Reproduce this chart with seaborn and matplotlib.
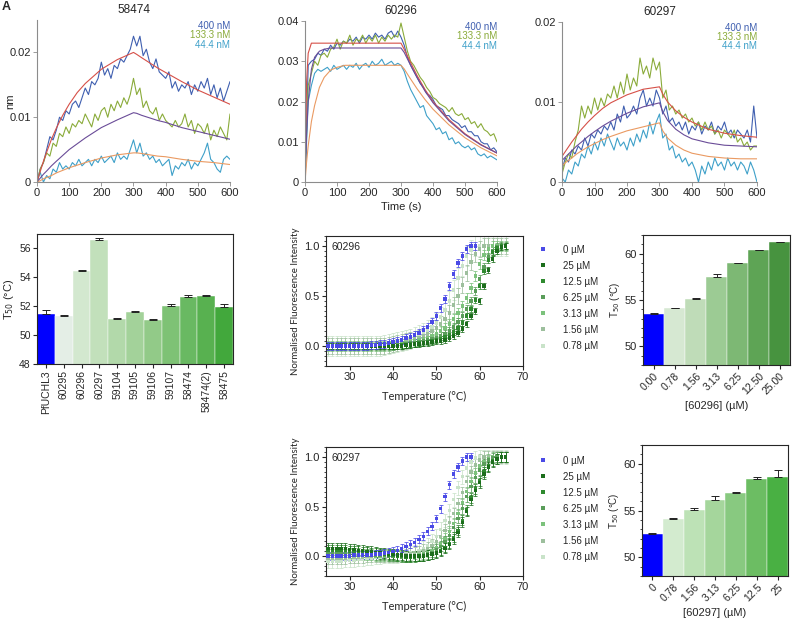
import numpy as np
import pandas as pd
import seaborn as sns
import matplotlib.pyplot as plt
from matplotlib.ticker import MultipleLocator

nan = np.nan

# ---------------- BLI sensorgrams (one reading every 10 s, 0..600 s)
t_trace = np.arange(0, 601, 10)
t_fit = [0, 5, 10, 20, 30, 45, 60, 80, 100, 125, 150, 200, 250, 300, 310, 325, 350, 375, 400, 450, 500, 550, 600]
conc_nm = ["400 nM", "133.3 nM", "44.4 nM"]

s58474_400 = [0.000, 0.002, 0.003, 0.005, 0.007, 0.0065, 0.008, 0.010, 0.0095, 0.011,
              0.0105, 0.012, 0.0125, 0.0115, 0.013, 0.0145, 0.0135, 0.0155, 0.015, 0.016,
              0.0185, 0.0165, 0.0175, 0.016, 0.018, 0.0175, 0.019, 0.0185, 0.0195, 0.0205,
              0.0225, 0.021, 0.0225, 0.0195, 0.0205, 0.0185, 0.0175, 0.019, 0.017, 0.0165,
              0.016, 0.017, 0.0145, 0.0155, 0.014, 0.015, 0.0145, 0.0155, 0.0135, 0.015,
              0.014, 0.0155, 0.0145, 0.016, 0.0135, 0.015, 0.013, 0.0145, 0.0125, 0.014,
              0.0155]
s58474_133 = [0.000, 0.002, 0.003, 0.0045, 0.004, 0.006, 0.0055, 0.0075, 0.007, 0.0085,
              0.0075, 0.009, 0.0085, 0.0095, 0.009, 0.0105, 0.0095, 0.0085, 0.0105, 0.0095,
              0.011, 0.0115, 0.010, 0.012, 0.011, 0.0125, 0.0115, 0.013, 0.012, 0.0135,
              0.016, 0.0135, 0.0145, 0.0115, 0.0125, 0.011, 0.0105, 0.0115, 0.0095, 0.0105,
              0.0095, 0.009, 0.0085, 0.0095, 0.0085, 0.009, 0.0105, 0.0085, 0.0095, 0.0075,
              0.009, 0.0085, 0.0075, 0.009, 0.0065, 0.008, 0.007, 0.0085, 0.0075, 0.0065,
              0.0105]
s58474_44 = [0.000, 0.0015, 0.000, 0.001, 0.0005, 0.002, 0.0015, 0.003, 0.002, 0.0025,
             0.002, 0.003, 0.0025, 0.0035, 0.0025, 0.003, 0.0035, 0.0025, 0.0035, 0.003,
             0.004, 0.003, 0.0035, 0.004, 0.003, 0.0045, 0.0035, 0.004, 0.0035, 0.005,
             0.0065, 0.0045, 0.006, 0.004, 0.0045, 0.0035, 0.004, 0.003, 0.0035, 0.0025,
             0.003, 0.0035, 0.001, 0.0025, 0.002, 0.003, 0.0025, 0.0035, 0.002, 0.003,
             0.0025, 0.0035, 0.0045, 0.006, 0.0035, 0.003, 0.002, 0.0015, 0.0035, 0.004,
             0.0035]
f58474_a = [0, 0.0008, 0.0016, 0.0032, 0.0046, 0.0066, 0.0083, 0.0103, 0.0120, 0.0138,
            0.0152, 0.0174, 0.0189, 0.0200, 0.0197, 0.0192, 0.0184, 0.0176, 0.0169, 0.0155,
            0.0142, 0.0131, 0.0120]
f58474_b = [0, 0.0003, 0.0006, 0.0012, 0.0017, 0.0025, 0.0032, 0.0041, 0.0050, 0.0059,
            0.0068, 0.0084, 0.0096, 0.0107, 0.0106, 0.0103, 0.0099, 0.0095, 0.0092, 0.0084,
            0.0078, 0.0072, 0.0066]
f58474_c = [0, 0.0001, 0.0002, 0.0005, 0.0007, 0.0010, 0.0014, 0.0018, 0.0022, 0.0026,
            0.0030, 0.0037, 0.0042, 0.0045, 0.0045, 0.0044, 0.0042, 0.0040, 0.0039, 0.0035,
            0.0032, 0.0030, 0.0027]

s60296_400 = [0.000, 0.029, 0.030, 0.0305, 0.032, 0.0315, 0.033, 0.0325, 0.034, 0.033,
              0.0345, 0.034, 0.035, 0.0345, 0.0355, 0.035, 0.036, 0.0345, 0.036, 0.0355,
              0.0365, 0.0355, 0.037, 0.036, 0.0365, 0.0355, 0.037, 0.0375, 0.036, 0.0375,
              0.036, 0.034, 0.031, 0.029, 0.0275, 0.026, 0.0245, 0.0235, 0.022, 0.0215,
              0.0205, 0.019, 0.0185, 0.018, 0.0165, 0.0165, 0.0155, 0.015, 0.0145, 0.0135,
              0.014, 0.0125, 0.0125, 0.0115, 0.0115, 0.010, 0.0095, 0.0095, 0.008, 0.0085,
              0.0075]
s60296_133 = [0.000, 0.024, 0.027, 0.030, 0.029, 0.0315, 0.032, 0.031, 0.033, 0.0335,
              0.0355, 0.033, 0.035, 0.0345, 0.0365, 0.034, 0.0355, 0.035, 0.0365, 0.0345,
              0.036, 0.035, 0.0365, 0.0345, 0.036, 0.035, 0.0365, 0.0355, 0.0365, 0.036,
              0.0395, 0.036, 0.0325, 0.030, 0.029, 0.0275, 0.026, 0.025, 0.0235, 0.0225,
              0.021, 0.0205, 0.0195, 0.019, 0.0185, 0.0175, 0.0185, 0.017, 0.0165, 0.017,
              0.0155, 0.016, 0.0145, 0.015, 0.0135, 0.0145, 0.013, 0.0125, 0.0115, 0.012,
              0.010]
s60296_44 = [0.000, 0.020, 0.024, 0.027, 0.028, 0.0275, 0.028, 0.0285, 0.0275, 0.029,
             0.028, 0.0285, 0.029, 0.028, 0.029, 0.0285, 0.0295, 0.028, 0.029, 0.0295,
             0.0285, 0.030, 0.029, 0.0295, 0.0305, 0.029, 0.0295, 0.030, 0.029, 0.0295,
             0.029, 0.0275, 0.025, 0.023, 0.0215, 0.020, 0.0185, 0.019, 0.0165, 0.0155,
             0.0145, 0.013, 0.0135, 0.012, 0.0125, 0.0105, 0.011, 0.0095, 0.010, 0.009,
             0.0085, 0.009, 0.008, 0.0085, 0.007, 0.0065, 0.007, 0.006, 0.0065, 0.006,
             0.0055]
f60296_a = [0, 0.025, 0.032, 0.0345, 0.0345, 0.0345, 0.0345, 0.0345, 0.0345, 0.0345,
            0.0345, 0.0345, 0.0345, 0.0345, 0.033, 0.0305, 0.0265, 0.023, 0.020, 0.0155,
            0.012, 0.0093, 0.0072]
f60296_b = [0, 0.012, 0.020, 0.028, 0.031, 0.0325, 0.033, 0.0333, 0.0333, 0.0333,
            0.0333, 0.0333, 0.0333, 0.0333, 0.0322, 0.0298, 0.026, 0.0226, 0.0197, 0.0152,
            0.0118, 0.0092, 0.0072]
f60296_c = [0, 0.005, 0.009, 0.015, 0.019, 0.0235, 0.026, 0.0278, 0.0285, 0.029,
            0.029, 0.029, 0.029, 0.029, 0.0281, 0.0262, 0.0232, 0.0205, 0.0181, 0.0142,
            0.011, 0.0085, 0.0065]

s60297_400 = [0.0015, 0.003, 0.0025, 0.004, 0.0035, 0.0045, 0.004, 0.0055, 0.0045, 0.006,
              0.0055, 0.0065, 0.006, 0.007, 0.0065, 0.0075, 0.0065, 0.0085, 0.0075, 0.0095,
              0.008, 0.0085, 0.0095, 0.0085, 0.0105, 0.0115, 0.0095, 0.0105, 0.0095, 0.0115,
              0.0105, 0.0085, 0.0095, 0.0075, 0.008, 0.007, 0.0075, 0.0065, 0.0075, 0.006,
              0.007, 0.0065, 0.0075, 0.006, 0.007, 0.0065, 0.0075, 0.006, 0.007, 0.0065,
              0.0075, 0.006, 0.0065, 0.0055, 0.0065, 0.006, 0.0055, 0.0065, 0.005, 0.0095,
              0.0055]
s60297_133 = [0.001, 0.0025, 0.0035, 0.003, 0.005, 0.0065, 0.0095, 0.008, 0.0095, 0.0085,
              0.0105, 0.009, 0.0105, 0.0095, 0.011, 0.0105, 0.012, 0.0105, 0.0125, 0.011,
              0.0135, 0.0115, 0.013, 0.012, 0.0155, 0.0135, 0.0145, 0.013, 0.0155, 0.014,
              0.015, 0.0105, 0.0115, 0.009, 0.0095, 0.0085, 0.009, 0.008, 0.0085, 0.0075,
              0.008, 0.007, 0.0075, 0.0065, 0.0075, 0.0065, 0.007, 0.006, 0.0065, 0.0055,
              0.0065, 0.006, 0.0055, 0.0065, 0.005, 0.0055, 0.0045, 0.005, 0.004, 0.0045,
              0.0045]
s60297_44 = [0.0005, 0.000, 0.0015, 0.001, 0.0025, 0.002, 0.0035, 0.003, 0.0045, 0.0035,
             0.005, 0.004, 0.0055, 0.0045, 0.006, 0.005, 0.004, 0.0055, 0.0045, 0.005,
             0.004, 0.0055, 0.0045, 0.006, 0.005, 0.0065, 0.0055, 0.0075, 0.006, 0.0075,
             0.0085, 0.0055, 0.006, 0.004, 0.0045, 0.003, 0.0035, 0.0025, 0.003, 0.002,
             0.0025, 0.0015, 0.000, 0.002, 0.001, 0.0025, 0.0015, 0.003, 0.002, 0.0025,
             0.0015, 0.003, 0.002, 0.0025, 0.0015, 0.0025, 0.002, 0.001, 0.0025, 0.0015,
             0.000]
f60297_a = [0.0032, 0.0035, 0.0038, 0.0044, 0.005, 0.0058, 0.0066, 0.0075, 0.0083, 0.0092,
            0.0099, 0.0109, 0.0116, 0.0119, 0.0110, 0.0100, 0.0089, 0.0081, 0.0075, 0.0066,
            0.0061, 0.0058, 0.0056]
f60297_b = [0.0027, 0.0029, 0.0031, 0.0035, 0.0039, 0.0045, 0.005, 0.0057, 0.0063, 0.007,
            0.0076, 0.0086, 0.0094, 0.0099, 0.0088, 0.0077, 0.0066, 0.0059, 0.0054, 0.0049,
            0.0046, 0.0045, 0.0044]
f60297_c = [0.002, 0.0022, 0.0024, 0.0027, 0.003, 0.0035, 0.0039, 0.0044, 0.0048, 0.0053,
            0.0057, 0.0064, 0.0069, 0.0074, 0.0064, 0.0055, 0.0046, 0.0040, 0.0036, 0.0032,
            0.0030, 0.0029, 0.0029]

# ---------------- T50 screen
cmpds = ["PfUCHL3", "60295", "60296", "60297", "59104", "59105", "59106", "59107", "58474", "58474(2)", "58475"]
t50_screen = [51.45, 51.3, 54.45, 56.55, 51.1, 51.6, 51.05, 52.0, 52.65, 52.7, 51.95]
t50_screen_err = [0.3, 0.1, 0.05, 0.2, 0.05, 0.05, 0.05, 0.15, 0.15, 0.1, 0.2]

# ---------------- DSF melt curves (25..66 degC)
temps = np.arange(25, 67)
dose_labels = ["0 µM", "25 µM", "12.5 µM", "6.25 µM", "3.13 µM", "1.56 µM", "0.78 µM"]

m60296 = [
    [0, 0, 0, 0, 0, 0, 0, 0, 0, 0,
     0.01, 0.01, 0.02, 0.02, 0.03, 0.04, 0.05, 0.06, 0.08, 0.09,
     0.11, 0.13, 0.16, 0.19, 0.24, 0.30, 0.38, 0.47, 0.60, 0.72,
     0.83, 0.90, 0.97, 1.00, 1.00, nan, nan, nan, nan, nan, nan, nan],
    [0, 0, 0, 0, 0, 0, 0, 0, 0, 0,
     0, 0, 0, 0, 0, 0, 0, 0, 0.01, 0.01,
     0.02, 0.02, 0.03, 0.03, 0.04, 0.05, 0.05, 0.06, 0.08, 0.10,
     0.13, 0.17, 0.22, 0.30, 0.35, 0.45, 0.60, 0.76, 0.87, 0.95, 0.99, 1.00],
    [0, 0, 0, 0, 0, 0, 0, 0, 0, 0,
     0, 0, 0, 0, 0, 0, 0, 0.01, 0.01, 0.02,
     0.02, 0.03, 0.03, 0.04, 0.05, 0.06, 0.07, 0.09, 0.11, 0.14,
     0.18, 0.23, 0.30, 0.37, 0.46, 0.60, 0.75, 0.86, 0.94, 0.98, 1.00, 1.00],
    [0, 0, 0, 0, 0, 0, 0, 0, 0, 0,
     0, 0, 0, 0, 0, 0, 0.01, 0.01, 0.02, 0.03,
     0.03, 0.04, 0.05, 0.06, 0.07, 0.08, 0.10, 0.12, 0.15, 0.19,
     0.24, 0.30, 0.37, 0.45, 0.55, 0.67, 0.79, 0.89, 0.95, 0.99, 1.00, 1.00],
    [0, 0, 0, 0, 0, 0, 0, 0, 0, 0,
     0, 0, 0, 0, 0, 0.01, 0.02, 0.02, 0.03, 0.04,
     0.05, 0.06, 0.07, 0.08, 0.10, 0.12, 0.15, 0.18, 0.22, 0.27,
     0.33, 0.40, 0.48, 0.58, 0.70, 0.82, 0.91, 0.97, 1.00, 1.00, 1.00, 1.00],
    [0, 0, 0, 0, 0, 0, 0, 0, 0, 0,
     0, 0, 0, 0, 0.01, 0.02, 0.03, 0.04, 0.05, 0.06,
     0.07, 0.08, 0.10, 0.12, 0.15, 0.18, 0.22, 0.27, 0.33, 0.41,
     0.50, 0.61, 0.73, 0.84, 0.92, 0.97, 1.00, 1.00, 1.00, 1.00, 1.00, 1.00],
    [0, 0, 0, 0, 0, 0, 0, 0, 0, 0,
     0, 0, 0, 0.01, 0.02, 0.03, 0.04, 0.05, 0.06, 0.07,
     0.09, 0.11, 0.13, 0.16, 0.19, 0.23, 0.29, 0.36, 0.45, 0.56,
     0.68, 0.80, 0.90, 0.96, 1.00, 1.00, 1.00, 1.00, 1.00, 1.00, 1.00, 1.00],
]
m60296_err = [0.04, 0.03, 0.03, 0.04, 0.05, 0.08, 0.10]

m60297 = [
    [0, 0, 0, 0, 0, 0, 0.01, 0.01, 0.01, 0.01,
     0.01, 0.02, 0.02, 0.03, 0.04, 0.05, 0.06, 0.08, 0.10, 0.12,
     0.14, 0.17, 0.20, 0.25, 0.30, 0.38, 0.48, 0.60, 0.72, 0.83,
     0.90, 0.96, 1.00, 1.00, nan, nan, nan, nan, nan, nan, nan, nan],
    [0.08, 0.08, 0.08, 0.08, 0.08, 0.07, 0.07, 0.06, 0.06, 0.05,
     0.05, 0.04, 0.03, 0.03, 0.02, 0.02, 0.01, 0.01, 0.0, 0.0,
     0.0, 0.0, 0.0, 0.01, 0.02, 0.03, 0.05, 0.08, 0.12, 0.17,
     0.24, 0.34, 0.45, 0.57, 0.66, 0.74, 0.83, 0.90, 0.95, 0.98, 1.00, 1.00],
    [0.06, 0.06, 0.06, 0.06, 0.06, 0.05, 0.05, 0.05, 0.04, 0.04,
     0.03, 0.03, 0.02, 0.02, 0.01, 0.01, 0.0, 0.0, -0.01, -0.01,
     -0.01, 0.0, 0.0, 0.01, 0.02, 0.04, 0.06, 0.09, 0.13, 0.19,
     0.26, 0.36, 0.47, 0.59, 0.68, 0.76, 0.85, 0.91, 0.96, 0.98, 1.00, 1.00],
    [0.04, 0.04, 0.04, 0.04, 0.04, 0.03, 0.03, 0.03, 0.02, 0.02,
     0.02, 0.01, 0.01, 0.01, 0.0, 0.0, 0.0, -0.01, -0.01, -0.01,
     0.0, 0.0, 0.01, 0.02, 0.04, 0.07, 0.10, 0.15, 0.21, 0.29,
     0.38, 0.48, 0.60, 0.70, 0.79, 0.87, 0.93, 0.97, 0.99, 1.00, 1.00, 1.00],
    [0.02, 0.02, 0.02, 0.02, 0.02, 0.02, 0.01, 0.01, 0.01, 0.01,
     0.01, 0.0, 0.0, 0.0, 0.0, 0.0, 0.0, -0.01, -0.01, 0.0,
     0.0, 0.01, 0.02, 0.04, 0.06, 0.09, 0.13, 0.18, 0.25, 0.33,
     0.43, 0.54, 0.65, 0.75, 0.84, 0.91, 0.95, 0.98, 1.00, 1.00, 1.00, 1.00],
    [-0.02, -0.02, -0.02, -0.02, -0.02, -0.01, -0.01, -0.01, -0.01, 0.0,
     0.0, 0.0, 0.0, 0.0, 0.0, 0.0, 0.0, 0.0, 0.01, 0.02,
     0.03, 0.04, 0.06, 0.08, 0.11, 0.15, 0.20, 0.26, 0.34, 0.43,
     0.53, 0.64, 0.75, 0.85, 0.92, 0.97, 1.00, 1.00, 1.00, 1.00, 1.00, 1.00],
    [-0.05, -0.05, -0.05, -0.05, -0.04, -0.04, -0.04, -0.03, -0.03, -0.02,
     -0.02, -0.01, -0.01, 0.0, 0.0, 0.0, 0.0, 0.01, 0.02, 0.03,
     0.04, 0.06, 0.08, 0.11, 0.15, 0.20, 0.27, 0.36, 0.46, 0.57,
     0.69, 0.80, 0.89, 0.95, 0.99, 1.00, 1.00, 1.00, 1.00, 1.00, 1.00, 1.00],
]
m60297_err = [0.04, 0.05, 0.05, 0.05, 0.05, 0.06, 0.07]

# ---------------- T50 dose response
dose_60296 = ["0.00", "0.78", "1.56", "3.13", "6.25", "12.50", "25.00"]
t50_60296 = [53.5, 54.1, 55.1, 57.5, 58.95, 60.35, 61.2]
t50_60296_err = [0.1, 0.08, 0.1, 0.25, 0.08, 0.05, 0.05]
dose_60297 = ["0", "0.78", "1.56", "3.13", "6.25", "12.5", "25"]
t50_60297 = [52.5, 54.1, 55.05, 56.15, 56.9, 58.4, 58.6]
t50_60297_err = [0.08, 0.15, 0.25, 0.35, 0.08, 0.15, 0.7]

trace_cols = ["#3f5fb0", "#8aab3a", "#3ea0c9"]
fit_cols = ["#d65048", "#6a4c98", "#ea9a62"]
dsf_cols = ["#4a4ae6", "#1c6e1c", "#2f8a2f", "#5a9d5a", "#7cc27c", "#9dbf9d", "#c9e3c9"]
screen_cols = ["#0000ff", "#e4eee6", "#d3e8cf", "#c2e0bb", "#b2d9aa", "#a3d29a",
               "#92ca88", "#7ec275", "#69b962", "#58b150", "#42a83c"]
dose96_cols = ["#0000ff", "#d6e8d2", "#bfdcb8", "#9ccb94", "#7db874", "#5ea455", "#47933f"]
dose97_cols = ["#0000ff", "#d3ebcf", "#bde2b6", "#a5d69c", "#88c980", "#6cbd63", "#49b043"]

sns.set_style("ticks")
plt.rcParams["font.family"] = ["Liberation Sans", "DejaVu Sans"]
plt.rcParams["axes.linewidth"] = 0.8


def sensorgram(ax, title, traces, fits, ymax, yticks, ylabels):
    df = pd.concat([pd.DataFrame({"t": t_trace, "v": tr, "c": c}) for c, tr in zip(conc_nm, traces)])
    sns.lineplot(data=df, x="t", y="v", hue="c", hue_order=conc_nm, palette=trace_cols,
                 linewidth=0.8, errorbar=None, legend=False, ax=ax)
    fkeys = ["a", "b", "c"]
    fdf = pd.concat([pd.DataFrame({"t": t_fit, "v": f, "k": k}) for k, f in zip(fkeys, fits)])
    sns.lineplot(data=fdf, x="t", y="v", hue="k", hue_order=fkeys, palette=fit_cols,
                 linewidth=0.8, errorbar=None, legend=False, ax=ax)
    ax.set_xlim(0, 600)
    ax.set_ylim(0, ymax)
    ax.set_xticks(range(0, 601, 100))
    ax.set_yticks(yticks, ylabels)
    ax.set_title(title, fontsize=8.5, pad=5)
    ax.set_xlabel("")
    ax.set_ylabel("")
    sns.despine(ax=ax)
    for s in ["left", "bottom"]:
        ax.spines[s].set_color("#8c8c8c")
    ax.tick_params(length=3, width=0.6, color="#8c8c8c", labelsize=8, pad=1.5)
    for i, (c, col) in enumerate(zip(conc_nm, trace_cols)):
        ax.text(1.0, 0.995 - i * 0.058, c, color=col, fontsize=7, ha="right", va="top",
                transform=ax.transAxes)


def dsf(ax, name, series, errs):
    rows = []
    order = list(range(len(series)))[::-1]
    for i in order:
        rows.append(pd.DataFrame({"T": temps, "v": series[i], "c": dose_labels[i]}))
    df = pd.concat(rows).dropna()
    for i in order:
        z = 4 if i == 0 else 2
        ax.errorbar(temps, series[i], yerr=errs[i], fmt="none", ecolor=dsf_cols[i],
                    elinewidth=0.6, capsize=1.3, capthick=0.6, zorder=z, alpha=0.9)
    sns.scatterplot(data=df, x="T", y="v", hue="c", hue_order=dose_labels, palette=dsf_cols,
                    marker="s", s=6, linewidth=0, ax=ax, zorder=5)
    ax.set_xlim(24.5, 70)
    ax.set_ylim(-0.2, 1.1)
    ax.set_xticks([30, 40, 50, 60, 70])
    ax.set_yticks([0, 0.5, 1.0], ["0.0", "0.5", "1.0"])
    ax.yaxis.set_minor_locator(MultipleLocator(0.05))
    ax.tick_params(which="major", length=3, width=0.8, labelsize=8, pad=1.5)
    ax.tick_params(which="minor", length=1.8, width=0.6)
    ax.text(0.03, 0.95, name, transform=ax.transAxes, fontsize=7.5, va="top")
    ax.set_xlabel("Temperature (°C)", fontsize=8, family=["Lato", "DejaVu Sans"], labelpad=6)
    ax.set_ylabel("Normalised Fluorescence Intensity", fontsize=7, family=["Lato", "DejaVu Sans"], labelpad=3)
    sns.move_legend(ax, "upper left", bbox_to_anchor=(1.01, 1.0), frameon=False, title=None,
                    fontsize=7, labelspacing=0.62, handletextpad=1.0, markerscale=0.9)


def tbar(ax, labels, vals, errs, cols, ylim):
    df = pd.DataFrame({"c": labels, "v": vals})
    sns.barplot(data=df, x="c", y="v", hue="c", palette=cols, saturation=1, width=1,
                legend=False, edgecolor="white", linewidth=0.3, ax=ax)
    n = len(vals)
    ax.errorbar(range(n), vals, yerr=[np.zeros(n), errs], fmt="none", ecolor="#222222",
                elinewidth=0.7, capsize=3, capthick=0.7, zorder=5)
    ax.set_xlim(-0.5, n - 0.5)
    ax.set_ylim(*ylim)
    ax.set_xlabel("")


fig = plt.figure(figsize=(7.92, 6.24), dpi=100)

ax1 = fig.add_axes([0.0467, 0.7083, 0.2437, 0.2596])
sensorgram(ax1, "58474", [s58474_400, s58474_133, s58474_44], [f58474_a, f58474_b, f58474_c],
           0.025, [0, 0.01, 0.02], ["0", "0.01", "0.02"])
ax1.set_ylabel("nm", fontsize=8)
ax1.yaxis.set_label_coords(-0.115, 0.5)

ax2 = fig.add_axes([0.3851, 0.7083, 0.2424, 0.258])
sensorgram(ax2, "60296", [s60296_400, s60296_133, s60296_44], [f60296_a, f60296_b, f60296_c],
           0.04, [0, 0.01, 0.02, 0.03, 0.04], ["0", "0.01", "0.02", "0.03", "0.04"])
ax2.set_xlabel("Time (s)", fontsize=8, labelpad=3)

ax3 = fig.add_axes([0.7096, 0.7083, 0.2462, 0.2564])
sensorgram(ax3, "60297", [s60297_400, s60297_133, s60297_44], [f60297_a, f60297_b, f60297_c],
           0.02, [0, 0.01, 0.02], ["0", "0.01", "0.02"])

# screen
ax4 = fig.add_axes([0.0467, 0.4167, 0.2475, 0.2083])
tbar(ax4, cmpds, t50_screen, t50_screen_err, screen_cols, (48, 57))
ax4.set_yticks([48, 50, 52, 54, 56])
ax4.tick_params(length=3, width=0.8, labelsize=7.5, pad=1.5)
ax4.tick_params(axis="x", labelrotation=90, labelsize=7.5)
ax4.set_ylabel("T$_{50}$ (°C)", fontsize=8, labelpad=2)

# DSF curves
ax5 = fig.add_axes([0.4116, 0.4135, 0.2487, 0.2083])
dsf(ax5, "60296", m60296, m60296_err)
ax7 = fig.add_axes([0.4116, 0.0769, 0.2487, 0.2067])
dsf(ax7, "60297", m60297, m60297_err)

# dose response bars
for labs, vals, errs, cols, name, rect in [
        (dose_60296, t50_60296, t50_60296_err, dose96_cols, "[60296] (µM)", [0.8119, 0.4151, 0.1856, 0.2083]),
        (dose_60297, t50_60297, t50_60297_err, dose97_cols, "[60297] (µM)", [0.8106, 0.0769, 0.1843, 0.2099])]:
    ax = fig.add_axes(rect)
    tbar(ax, labs, vals, errs, cols, (48, 62))
    ax.set_yticks([50, 55, 60])
    ax.yaxis.set_minor_locator(MultipleLocator(1))
    ax.tick_params(which="major", length=3, width=0.8, labelsize=8, pad=1.5)
    ax.tick_params(which="minor", length=1.8, width=0.6)
    plt.setp(ax.get_xticklabels(), rotation=45, ha="right", rotation_mode="anchor", fontsize=7.5)
    ax.set_xlabel(name, fontsize=8, labelpad=3)
    ax.set_ylabel("T$_{50}$ (°C)", fontsize=7, labelpad=2)

fig.text(0.002, 0.998, "A", fontsize=9, fontweight="bold", va="top")

fig.savefig("out.png", dpi=100)
